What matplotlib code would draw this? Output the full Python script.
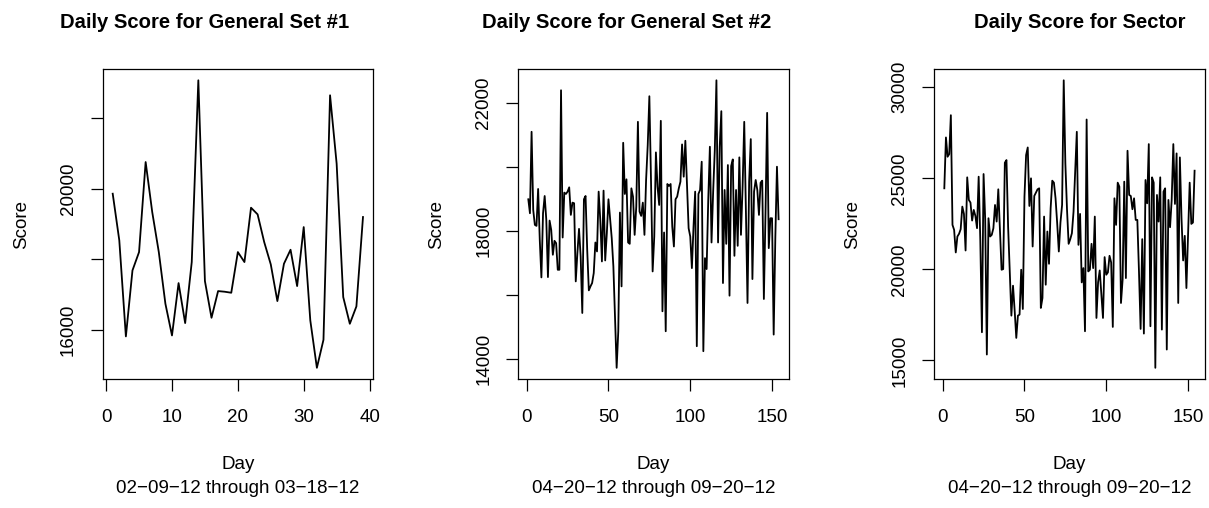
import matplotlib
matplotlib.use("Agg")
import matplotlib.pyplot as plt

plt.rcParams["font.family"] = ["Liberation Sans", "DejaVu Sans"]

# General Set #1, days 1..39 (02-09-12 through 03-18-12)
set1_scores = [
    19856, 18533, 15811, 17682, 18202, 20754, 19336, 18200, 16737, 15839,
    17323, 16189, 17919, 23070, 17380, 16340, 17096, 17078, 17049, 18202,
    17919, 19459, 19270, 18486, 17852, 16813, 17871, 18268, 17238, 18911,
    16265, 14922, 15716, 22645, 20707, 16926, 16170, 16662, 19195,
]

# General Set #2, days 1..154 (04-20-12 through 09-20-12)
set2_scores = [
    18984, 18547, 21097, 18651, 18183, 18152, 19307, 17715, 16539, 18547,
    19088, 18339, 16549, 18318, 18027, 17247, 17684, 17611, 16778, 16778,
    22397, 17788, 19193, 19151, 19224, 19359, 18495, 18880, 18860, 16414,
    17299, 18058, 17195, 15425, 18984, 19088, 17403, 16133, 16258, 16362,
    16674, 17632, 17351, 19224, 18339, 17039, 19255, 17070, 17923, 18984,
    18391, 17767, 16882, 15322, 13709, 14853, 18568, 16258, 20753, 19151,
    19609, 17632, 17590, 19328, 19068, 17871, 18755, 21409, 18599, 18464,
    18880, 17871, 19588, 20681, 22210, 19588, 16726, 17819, 20452, 19380,
    18807, 21440, 15478, 17944, 14853, 19463, 19401, 19463, 18131, 17507,
    18984, 19068, 19328, 19536, 20701, 19692, 20816, 19484, 18079, 17819,
    16830, 18131, 19224, 14385, 19151, 19276, 20160, 14229, 17143, 16799,
    18964, 20629, 17632, 19224, 20524, 22709, 17632, 20629, 21742, 16362,
    19276, 17590, 20056, 15967, 20025, 20233, 17215, 19276, 17528, 20296,
    17871, 19380, 21409, 18672, 15738, 19536, 20868, 16487, 19224, 19588,
    19276, 18495, 19505, 19567, 15863, 18547, 21690, 17455, 18391, 18391,
    14749, 17767, 20004, 18360,
]

# Sector, days 1..154 (04-20-12 through 09-20-12)
sector_scores = [
    24453, 27245, 26186, 26332, 28467, 22445, 22172, 20931, 21807, 21953,
    22208, 23449, 23047, 21040, 25055, 23814, 23668, 22682, 23266, 22938,
    22263, 25091, 21624, 16551, 25237, 22719, 15328, 22810, 21807, 21898,
    22263, 23540, 22628, 24398, 22208, 19982, 20018, 25858, 26004, 22354,
    19982, 17464, 19106, 17755, 16241, 17464, 17518, 19982, 17828, 23996,
    26277, 26697, 23485, 25000, 21259, 24033, 24215, 24398, 24453, 17883,
    18431, 22901, 19161, 22080, 20310, 23358, 24872, 24763, 23905, 22536,
    20985, 22573, 23540, 30383, 25821, 23303, 21405, 21661, 21989, 23175,
    25420, 27555, 21350, 23047, 19288, 20073, 16606, 28230, 19891, 19982,
    21405, 20073, 22901, 17336, 19288, 19945, 18668, 17336, 20675, 19708,
    19836, 20748, 20383, 16843, 23905, 22445, 24763, 24544, 18157, 19434,
    24818, 19526, 26515, 24088, 24033, 23303, 23905, 22719, 22719, 19891,
    16734, 21661, 16478, 24909, 23631, 26880, 16880, 25055, 24763, 14599,
    24088, 22628, 25055, 16697, 24270, 24453, 15602, 23814, 22318, 23814,
    26880, 23595, 26369, 18157, 26150, 22810, 20493, 21843, 18978, 21807,
    24763, 22500, 22573, 25420,
]

titles = ["Daily Score for General Set #1", "Daily Score for General Set #2",
          "Daily Score for Sector"]
date_ranges = ["02\u221209\u221212 through 03\u221218\u221212",
               "04\u221220\u221212 through 09\u221220\u221212",
               "04\u221220\u221212 through 09\u221220\u221212"]
x_ticks = [[0, 10, 20, 30, 40], [0, 50, 100, 150], [0, 50, 100, 150]]
y_ticks = [[16000, 18000, 20000, 22000],
           [14000, 16000, 18000, 20000, 22000],
           [15000, 20000, 25000, 30000]]
y_tick_labels = [["16000", "", "20000", ""],
                 ["14000", "", "18000", "", "22000"],
                 ["15000", "20000", "25000", "30000"]]

W, H = 1209, 508
lefts = [102.7, 518.3, 934.3]
title_x = [0.378, 0.399, 0.538]
series = [set1_scores, set2_scores, sector_scores]

fig = plt.figure(figsize=(W / 100, H / 100), dpi=100)

for i in range(3):
    ax = fig.add_axes([lefts[i] / W, 1 - 379.3 / H, 270.3 / W, 310.5 / H])
    y = series[i]
    ax.plot(range(1, len(y) + 1), y, color="black", lw=1.3)
    ax.margins(x=0.04, y=0.04)
    ax.set_xticks(x_ticks[i])
    ax.set_yticks(y_ticks[i])
    ax.set_yticklabels(y_tick_labels[i], rotation=90, va="center")
    ax.tick_params(direction="out", length=8.3, width=0.9, labelsize=13.5)
    ax.tick_params(axis="x", pad=13.4)
    ax.tick_params(axis="y", pad=10.5)
    for s in ax.spines.values():
        s.set_linewidth(0.9)
    ax.set_ylabel("Score", fontsize=13.5)
    ax.yaxis.set_label_coords(-0.27, 0.5)
    ax.text(0.5, -0.275, "Day", transform=ax.transAxes, ha="center", va="center",
            fontsize=13.5)
    ax.text(0.5, -0.353, date_ranges[i], transform=ax.transAxes, ha="center",
            va="center", fontsize=13.5)
    ax.text(title_x[i], 1.15, titles[i], transform=ax.transAxes, ha="center",
            va="center", fontsize=14.6, fontweight="bold")

fig.savefig("out.png", dpi=100)
